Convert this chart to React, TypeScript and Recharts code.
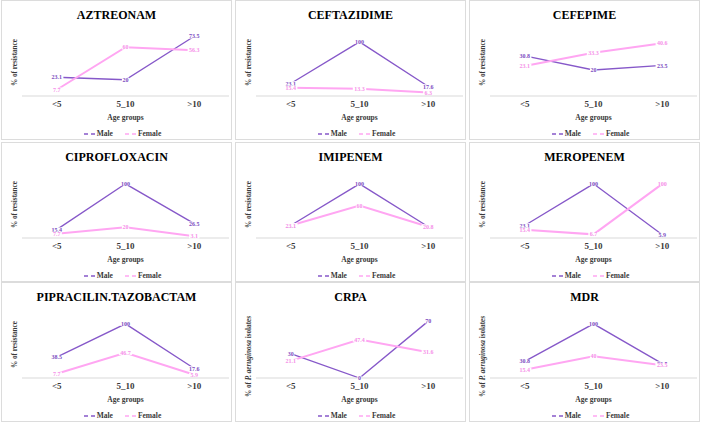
import React from 'react';
import { Line, LineChart, XAxis, YAxis } from 'recharts';

const FONT = "'Liberation Serif', 'Times New Roman', 'DejaVu Serif', serif";

const ageGroups = ['<5', '5_10', '>10'];
const drugs = [
  'AZTREONAM', 'CEFTAZIDIME', 'CEFEPIME',
  'CIPROFLOXACIN', 'IMIPENEM', 'MEROPENEM',
  'PIPRACILIN.TAZOBACTAM', 'CRPA', 'MDR',
];
const maleValues = [
  [23.1, 20, 73.5],
  [23.1, 100, 17.6],
  [30.8, 20, 23.5],
  [15.4, 100, 26.5],
  [23.1, 100, 20.8],
  [23.1, 100, 5.9],
  [38.5, 100, 17.6],
  [30, 0, 70],
  [30.8, 100, 26.5],
];
const femaleValues = [
  [7.7, 60, 56.3],
  [15.4, 13.3, 6.3],
  [23.1, 33.3, 40.6],
  [7.7, 20, 3.1],
  [23.1, 60, 20.8],
  [15.4, 6.7, 100],
  [7.7, 46.7, 5.9],
  [21.1, 47.4, 31.6],
  [15.4, 40, 23.5],
];
const axisMax = [80, 120, 50, 120, 120, 120, 120, 80, 120];
const isolateCharts = ['CRPA', 'MDR'];

const MALE = '#8658c9';
const FEMALE = '#ffa6f2';
const MALE_TEXT = '#7b4bbf';
const FEMALE_TEXT = '#f58fe8';
const GREY_TEXT = '#3a3a3a';

const colLeft = [1, 235, 469];
const rowTop = [0, 142, 282];
const PANEL_W = 231;
const PANEL_H = 140;

// value tag sitting on the point, with a thin white box that breaks the line
const valueLabel = (color: string) => (p: any) => {
  const x = p.x ?? p.viewBox?.x;
  const y = p.y ?? p.viewBox?.y;
  if (x == null || y == null) return null;
  const text = String(p.value);
  const w = text.length * 3.1 + 1;
  return (
    <g>
      <rect x={x - w / 2} y={y - 2.2} width={w} height={4.4} fill="#fff" />
      <text x={x} y={y} dy="0.35em" textAnchor="middle" fontSize={6} fontWeight={700}
        fill={color} fontFamily={FONT}>{text}</text>
    </g>
  );
};

const xTitle = (p: any) => {
  const vb = p.viewBox;
  return (
    <text x={vb.x + vb.width / 2} y={vb.y + 24} textAnchor="middle" fontSize={7.5}
      fontWeight={700} fill={GREY_TEXT} fontFamily={FONT}>Age groups</text>
  );
};

const yTitle = (isolates: boolean) => (p: any) => {
  const vb = p.viewBox;
  const cx = 12;
  const cy = vb.y + vb.height / 2 + (isolates ? 11 : -1);
  return (
    <text x={cx} y={cy} dy="0.35em" textAnchor="middle" fontSize={7.2} fontWeight={700}
      fill={GREY_TEXT} fontFamily={FONT} transform={`rotate(-90, ${cx}, ${cy})`}>
      {isolates ? (
        <>
          <tspan>% of </tspan>
          <tspan fontStyle="italic">P. aeruginosa</tspan>
          <tspan> isolates</tspan>
        </>
      ) : '% of resistance'}
    </text>
  );
};

const LegendKey = ({ color, name }: { color: string; name: string }) => (
  <span style={{ display: 'flex', alignItems: 'center' }}>
    <svg width={13} height={4}>
      <line x1={0} y1={2} x2={13} y2={2} stroke={color} strokeWidth={1.5} strokeDasharray="4 3" />
    </svg>
    {name}
  </span>
);

const Panel = ({ k }: { k: number }) => {
  const rows = ageGroups.map((g, i) => ({ group: g, male: maleValues[k][i], female: femaleValues[k][i] }));
  const isolates = isolateCharts.includes(drugs[k]);
  return (
    <div style={{
      position: 'absolute', left: colLeft[k % 3], top: rowTop[Math.floor(k / 3)],
      width: PANEL_W, height: PANEL_H, border: '1px solid #dcdcdc', boxSizing: 'border-box',
      background: '#fff',
    }}>
      <div style={{
        position: 'absolute', top: 8, left: 0, width: '100%', textAlign: 'center',
        fontFamily: FONT, fontWeight: 700, fontSize: 12, lineHeight: '12px', color: '#000',
      }}>{drugs[k]}</div>
      <div style={{ position: 'absolute', left: 0, top: 0 }}>
        <LineChart width={PANEL_W - 2} height={PANEL_H - 2} data={rows}
          margin={{ top: 30, right: 2, bottom: 23, left: 0 }}>
          <XAxis dataKey="group" height={20} interval={0} axisLine={{ stroke: '#d9d9d9' }}
            tickLine={false} tickSize={5} tickMargin={0} padding={{ left: 34.7, right: 34.7 }}
            tick={{ fontSize: 9, fontWeight: 700, fill: GREY_TEXT, fontFamily: FONT }}
            label={{ content: xTitle }} />
          <YAxis width={20} domain={[0, axisMax[k]]} tick={false} axisLine={false} tickLine={false}
            label={{ content: yTitle(isolates) }} />
          <Line dataKey="male" stroke={MALE} strokeWidth={1.3} dot={false}
            isAnimationActive={false} label={valueLabel(MALE_TEXT)} />
          <Line dataKey="female" stroke={FEMALE} strokeWidth={2} dot={false}
            isAnimationActive={false} label={valueLabel(FEMALE_TEXT)} />
        </LineChart>
      </div>
      <div style={{
        position: 'absolute', top: 128, left: 6, width: '100%', display: 'flex',
        justifyContent: 'center', gap: 12, fontFamily: FONT, fontWeight: 700, fontSize: 7.5,
        lineHeight: '10px', color: GREY_TEXT,
      }}>
        <LegendKey color={MALE} name="Male" />
        <LegendKey color={FEMALE} name="Female" />
      </div>
    </div>
  );
};

export default function App() {
  return (
    <div style={{ position: 'relative', width: 702, height: 428, background: '#fff', overflow: 'hidden' }}>
      <style>{'body{margin:0}'}</style>
      {drugs.map((_, k) => <Panel key={k} k={k} />)}
    </div>
  );
}
